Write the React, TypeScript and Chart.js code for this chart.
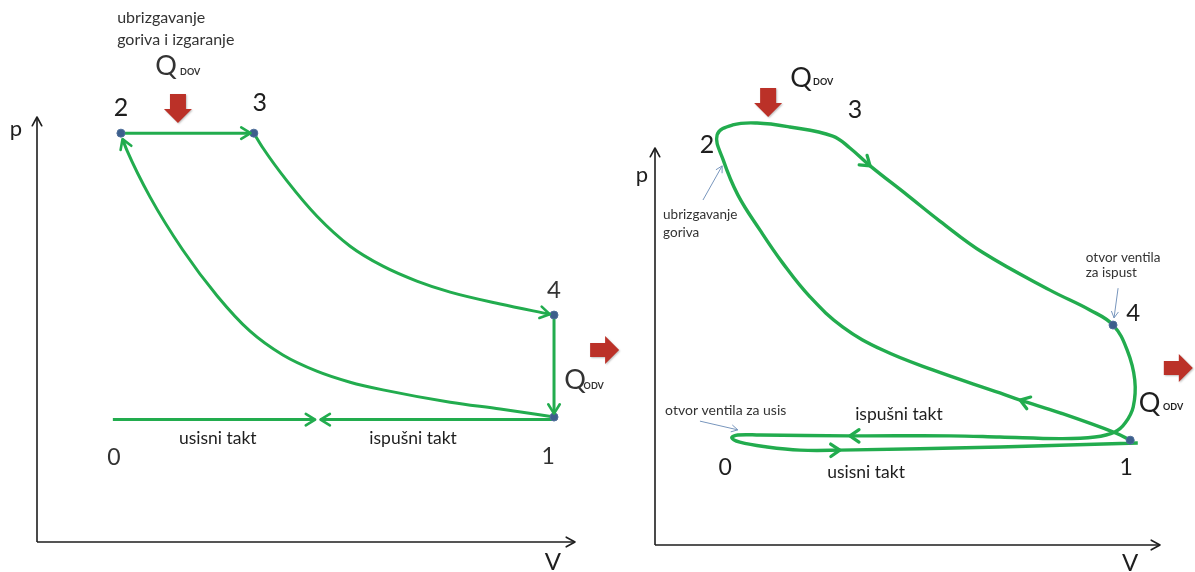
import React, { useEffect, useRef } from "react";
import { Chart, registerables } from "chart.js";

Chart.register(...registerables);

type Pt = [number, number];

// ================= LEFT: ideal Diesel cycle (V, p in arbitrary units) =================
const idealStates: Pt[] = [[1.56, 9.62], [4.03, 9.62], [9.61, 5.34], [9.61, 2.94]]; // 2, 3, 4, 1
const idealCombustion: Pt[] = [[1.56, 9.62], [3.97, 9.62]];
const idealExpansion: Pt[] = [
  [4.03, 9.62], [4.2, 9.27], [4.65, 8.49], [5.2, 7.67], [5.82, 6.96], [6.43, 6.49],
  [7.06, 6.14], [7.68, 5.88], [8.61, 5.6], [9.53, 5.36],
];
const idealHeatRejection: Pt[] = [[9.61, 5.34], [9.61, 3.02]];
const idealCompression: Pt[] = [
  [9.61, 2.94], [8.61, 3.13], [7.68, 3.29], [6.43, 3.58], [5.82, 3.76], [5.2, 4.02],
  [4.57, 4.4], [3.96, 4.96], [3.35, 5.79], [2.71, 6.87], [2.1, 8.12], [1.67, 9.22], [1.59, 9.48],
];
const idealIntake: Pt[] = [[1.41, 2.88], [5.17, 2.88]];
const idealExhaust: Pt[] = [[9.61, 2.88], [5.27, 2.88]];

// ================= RIGHT: real Diesel cycle =================
const realStates: Pt[] = [[1.23, 10.33], [3.52, 10.3], [9.07, 5.54], [9.41, 2.64]]; // 2, 3, 4, 1
const realCompression: Pt[] = [
  [9.41, 2.64], [9.13, 2.82], [8.02, 3.33], [7.23, 3.65], [6.83, 3.83], [5.5, 4.41],
  [4.51, 4.91], [3.72, 5.49], [3.07, 6.25], [2.53, 7.1], [2.08, 7.93], [1.64, 8.82],
  [1.35, 9.7], [1.23, 10.33],
];
const realCombustion: Pt[] = [[1.23, 10.33], [1.54, 10.58], [2.02, 10.63], [2.67, 10.53], [3.52, 10.3]];
const realExpansion: Pt[] = [
  [3.52, 10.3], [3.86, 10.0], [4.26, 9.55], [4.99, 8.82], [5.64, 8.16], [6.5, 7.36],
  [7.82, 6.42], [8.61, 5.92], [9.07, 5.54],
];
const realExhaust: Pt[] = [
  [9.07, 5.54], [9.35, 4.91], [9.5, 4.16], [9.47, 3.48], [9.31, 3.07], [9.11, 2.85],
  [8.71, 2.72], [8.02, 2.68], [6.83, 2.72], [5.84, 2.75], [3.86, 2.75], [2.08, 2.77],
  [1.64, 2.77], [1.52, 2.7],
];
const realIntake: Pt[] = [
  [1.52, 2.7], [1.68, 2.59], [2.22, 2.47], [2.87, 2.39], [3.66, 2.39], [6.83, 2.47], [9.56, 2.57],
];
const realArrowPoints: Pt[] = [[4.26, 9.55], [7.23, 3.65], [3.86, 2.75], [3.66, 2.39]];

// ================= Labels =================
const stateNames = ["2", "3", "4", "1", "0"];
const strokeNames = ["usisni takt", "ispušni takt"];
const heatIn = ["Q", "DOV"];
const heatOut = ["Q", "ODV"];
const axisNames = ["p", "V"];
const noteInjectionLeft = ["ubrizgavanje", "goriva i izgaranje"];
const noteInjectionRight = ["ubrizgavanje", "goriva"];
const noteExhaustValve = ["otvor ventila", "za ispust"];
const noteIntakeValve = ["otvor ventila za usis"];

const GREEN = "#22ac4e";
const RED = "#bb3128";
const INK = "#1e1e1e";
const NOTE = "#7896bd";
const FONT = "Lato, 'Open Sans', sans-serif";

const xy = (a: Pt[]) => a.map(([x, y]) => ({ x, y }));

interface TextSpec { t: string; v: number; p: number; size: number; align?: CanvasTextAlign; color?: string; weight?: string }
interface BlockArrow { dir: "down" | "right"; v: number; p: number }
interface Pointer { from: Pt; to: Pt }
interface Spec { texts: TextSpec[]; blocks: BlockArrow[]; pointers: Pointer[]; arrowW: number; arrowLen: number }

function chevron(ctx: CanvasRenderingContext2D, x: number, y: number, ang: number, len: number, lw: number, color: string, spread = 0.55) {
  ctx.save();
  ctx.strokeStyle = color;
  ctx.lineWidth = lw;
  ctx.lineCap = "round";
  ctx.lineJoin = "round";
  ctx.beginPath();
  ctx.moveTo(x - len * Math.cos(ang - spread), y - len * Math.sin(ang - spread));
  ctx.lineTo(x, y);
  ctx.lineTo(x - len * Math.cos(ang + spread), y - len * Math.sin(ang + spread));
  ctx.stroke();
  ctx.restore();
}

function blockArrow(ctx: CanvasRenderingContext2D, x: number, y: number, dir: "down" | "right") {
  const L = 29, H = 14, bw = 8, hw = 14;
  ctx.save();
  ctx.fillStyle = RED;
  ctx.shadowColor = "rgba(0,0,0,0.25)";
  ctx.shadowBlur = 2;
  ctx.shadowOffsetX = 1;
  ctx.shadowOffsetY = 1;
  ctx.beginPath();
  if (dir === "down") {
    ctx.moveTo(x, y);
    ctx.lineTo(x - hw, y - H);
    ctx.lineTo(x - bw, y - H);
    ctx.lineTo(x - bw, y - L);
    ctx.lineTo(x + bw, y - L);
    ctx.lineTo(x + bw, y - H);
    ctx.lineTo(x + hw, y - H);
  } else {
    ctx.moveTo(x, y);
    ctx.lineTo(x - H, y - hw);
    ctx.lineTo(x - H, y - bw + 1);
    ctx.lineTo(x - L, y - bw + 1);
    ctx.lineTo(x - L, y + bw - 1);
    ctx.lineTo(x - H, y + bw - 1);
    ctx.lineTo(x - H, y + hw);
  }
  ctx.closePath();
  ctx.fill();
  ctx.restore();
}

function makePlugin(name: string, spec: Spec) {
  return {
    id: "diagram-" + name,
    beforeDatasetsDraw(chart: any) {
      const ctx: CanvasRenderingContext2D = chart.ctx;
      const xs = chart.scales.x, ys = chart.scales.y;
      const x0 = xs.getPixelForValue(0), y0 = ys.getPixelForValue(0);
      const yt = ys.getPixelForValue(ys.max), xr = xs.getPixelForValue(xs.max);
      ctx.save();
      ctx.strokeStyle = INK;
      ctx.lineWidth = 1.6;
      ctx.beginPath();
      ctx.moveTo(x0, y0);
      ctx.lineTo(x0, yt);
      ctx.moveTo(x0, y0);
      ctx.lineTo(xr, y0);
      ctx.stroke();
      ctx.restore();
      chevron(ctx, x0, yt, -Math.PI / 2, 10, 1.6, INK, 0.5);
      chevron(ctx, xr, y0, 0, 10, 1.6, INK, 0.5);
    },
    afterDatasetsDraw(chart: any) {
      const ctx: CanvasRenderingContext2D = chart.ctx;
      const X = (v: number) => chart.scales.x.getPixelForValue(v);
      const Y = (p: number) => chart.scales.y.getPixelForValue(p);
      chart.data.datasets.forEach((ds: any, i: number) => {
        const pts = chart.getDatasetMeta(i).data;
        if (ds.arrowEnd && pts.length > 1) {
          const a = pts[pts.length - 2], b = pts[pts.length - 1];
          chevron(ctx, b.x, b.y, Math.atan2(b.y - a.y, b.x - a.x), spec.arrowLen, spec.arrowW, GREEN);
        }
        if (ds.arrowAt) {
          (ds.arrowAt as Pt[]).forEach(([v, p]) => {
            const px = X(v), py = Y(p);
            let k = 1, best = Infinity;
            pts.forEach((e: any, j: number) => {
              const d = (e.x - px) ** 2 + (e.y - py) ** 2;
              if (d < best && j > 0 && j < pts.length - 1) { best = d; k = j; }
            });
            const a = pts[k - 1], b = pts[k + 1];
            chevron(ctx, pts[k].x, pts[k].y, Math.atan2(b.y - a.y, b.x - a.x), 11, 3.2, GREEN, 0.6);
          });
        }
      });
      spec.blocks.forEach((b) => blockArrow(ctx, X(b.v), Y(b.p), b.dir));
      spec.pointers.forEach((pt) => {
        const fx = X(pt.from[0]), fy = Y(pt.from[1]), tx = X(pt.to[0]), ty = Y(pt.to[1]);
        ctx.save();
        ctx.strokeStyle = NOTE;
        ctx.lineWidth = 1;
        ctx.beginPath();
        ctx.moveTo(fx, fy);
        ctx.lineTo(tx, ty);
        ctx.stroke();
        ctx.restore();
        chevron(ctx, tx, ty, Math.atan2(ty - fy, tx - fx), 7, 1, NOTE, 0.5);
      });
      spec.texts.forEach((t) => {
        ctx.save();
        ctx.fillStyle = t.color || INK;
        ctx.font = `${t.weight || "normal"} ${t.size}px ${FONT}`;
        ctx.textAlign = t.align || "center";
        ctx.textBaseline = "middle";
        ctx.fillText(t.t, X(t.v), Y(t.p));
        ctx.restore();
      });
    },
  };
}

function lineDs(data: Pt[], extra: any = {}) {
  return {
    data: xy(data),
    showLine: true,
    borderColor: GREEN,
    borderWidth: 3,
    pointRadius: 0,
    pointHoverRadius: 0,
    tension: 0.4,
    fill: false,
    clip: false,
    ...extra,
  };
}

function markerDs(data: Pt[]) {
  return {
    data: xy(data),
    showLine: false,
    pointRadius: 4,
    pointBackgroundColor: "#3d5f8c",
    pointBorderColor: "#4f6f9a",
    pointBorderWidth: 1,
    clip: false,
  };
}

function baseOptions(padding: any) {
  return {
    responsive: false,
    animation: false as const,
    devicePixelRatio: 1,
    events: [] as any[],
    layout: { padding },
    elements: { line: { capBezierPoints: false } },
    plugins: { legend: { display: false }, tooltip: { enabled: false } },
    scales: {
      x: { type: "linear" as const, min: 0, max: 10, display: false },
      y: { type: "linear" as const, min: 0, max: 10, display: false },
    },
  };
}

const leftSpec: Spec = {
  arrowW: 2.6,
  arrowLen: 11,
  blocks: [{ dir: "down", v: 2.62, p: 9.86 }, { dir: "right", v: 10.82, p: 4.52 }],
  pointers: [],
  texts: [
    { t: noteInjectionLeft[0], v: 1.49, p: 12.33, size: 16, align: "left", color: "#333" },
    { t: noteInjectionLeft[1], v: 1.49, p: 11.81, size: 16, align: "left", color: "#333" },
    { t: heatIn[0], v: 2.2, p: 11.2, size: 27, align: "left", color: "#333" },
    { t: heatIn[1], v: 2.66, p: 11.05, size: 9, align: "left", color: "#333", weight: "bold" },
    { t: stateNames[0], v: 1.56, p: 10.21, size: 25 },
    { t: stateNames[1], v: 4.14, p: 10.33, size: 25 },
    { t: stateNames[2], v: 9.61, p: 5.93, size: 24, color: "#333" },
    { t: stateNames[3], v: 9.5, p: 2.0, size: 23, color: "#333" },
    { t: stateNames[4], v: 1.43, p: 1.98, size: 23, color: "#333" },
    { t: strokeNames[0], v: 3.36, p: 2.45, size: 17.5 },
    { t: strokeNames[1], v: 6.99, p: 2.45, size: 17.5 },
    { t: heatOut[0], v: 9.8, p: 3.81, size: 27, align: "left", color: "#333" },
    { t: heatOut[1], v: 10.16, p: 3.66, size: 9, align: "left", color: "#333", weight: "bold" },
    { t: axisNames[0], v: -0.39, p: 9.72, size: 22 },
    { t: axisNames[1], v: 9.59, p: -0.47, size: 24 },
  ],
};

const rightSpec: Spec = {
  arrowW: 3,
  arrowLen: 11,
  blocks: [{ dir: "down", v: 2.24, p: 10.78 }, { dir: "right", v: 10.65, p: 4.46 }],
  pointers: [
    { from: [0.95, 8.69], to: [1.33, 9.55] },
    { from: [9.17, 6.47], to: [9.09, 5.72] },
    { from: [0.89, 3.12], to: [1.64, 2.9] },
  ],
  texts: [
    { t: axisNames[0], v: -0.26, p: 9.32, size: 22 },
    { t: axisNames[1], v: 9.41, p: -0.45, size: 24 },
    { t: heatIn[0], v: 2.68, p: 11.76, size: 27, align: "left" },
    { t: heatIn[1], v: 3.13, p: 11.66, size: 9, align: "left", weight: "bold" },
    { t: stateNames[1], v: 3.96, p: 10.96, size: 25 },
    { t: stateNames[0], v: 1.03, p: 10.08, size: 25 },
    { t: noteInjectionRight[0], v: 0.16, p: 8.31, size: 13.5, align: "left", color: "#333" },
    { t: noteInjectionRight[1], v: 0.16, p: 7.88, size: 13.5, align: "left", color: "#333" },
    { t: noteExhaustValve[0], v: 8.53, p: 7.25, size: 13.5, align: "left", color: "#333" },
    { t: noteExhaustValve[1], v: 8.53, p: 6.85, size: 13.5, align: "left", color: "#333" },
    { t: stateNames[2], v: 9.47, p: 5.84, size: 24 },
    { t: heatOut[0], v: 9.58, p: 3.58, size: 27, align: "left" },
    { t: heatOut[1], v: 10.06, p: 3.47, size: 9, align: "left", weight: "bold" },
    { t: noteIntakeValve[0], v: 0.2, p: 3.4, size: 14, align: "left", color: "#333" },
    { t: strokeNames[1], v: 4.83, p: 3.3, size: 17.5 },
    { t: stateNames[4], v: 1.39, p: 1.94, size: 23 },
    { t: strokeNames[0], v: 4.18, p: 1.84, size: 17.5 },
    { t: stateNames[3], v: 9.33, p: 1.96, size: 23 },
  ],
};

function leftConfig(): any {
  const mono = { cubicInterpolationMode: "monotone", arrowEnd: true };
  return {
    type: "scatter",
    data: {
      datasets: [
        markerDs(idealStates),
        lineDs(idealCombustion, { arrowEnd: true }),
        lineDs(idealExpansion, mono),
        lineDs(idealHeatRejection, { arrowEnd: true }),
        lineDs(idealCompression, mono),
        lineDs(idealIntake, { arrowEnd: true }),
        lineDs(idealExhaust, { arrowEnd: true }),
      ],
    },
    options: baseOptions({ left: 37, right: 55, top: 117, bottom: 30 }),
    plugins: [makePlugin("left", leftSpec)],
  };
}

function rightConfig(): any {
  const path: Pt[] = [
    ...realCompression,
    ...realCombustion.slice(1),
    ...realExpansion.slice(1),
    ...realExhaust.slice(1),
    ...realIntake.slice(1),
  ];
  return {
    type: "scatter",
    data: {
      datasets: [
        markerDs(realStates),
        lineDs(path, { borderWidth: 3.4, arrowAt: realArrowPoints }),
      ],
    },
    options: baseOptions({ left: 55, right: 35, top: 148, bottom: 27 }),
    plugins: [makePlugin("right", rightSpec)],
  };
}

function Diagram({ left, width, config }: { left: number; width: number; config: () => any }) {
  const ref = useRef<HTMLCanvasElement>(null);
  useEffect(() => {
    const chart = new Chart(ref.current as HTMLCanvasElement, config());
    return () => chart.destroy();
  }, []);
  return (
    <canvas
      ref={ref}
      width={width}
      height={572}
      style={{ position: "absolute", left, top: 0, width, height: 572 }}
    />
  );
}

export default function App() {
  return (
    <div style={{ position: "absolute", left: 0, top: 0, width: 1195, height: 572, background: "#fff", overflow: "hidden" }}>
      <Diagram left={0} width={630} config={leftConfig} />
      <Diagram left={600} width={595} config={rightConfig} />
    </div>
  );
}
